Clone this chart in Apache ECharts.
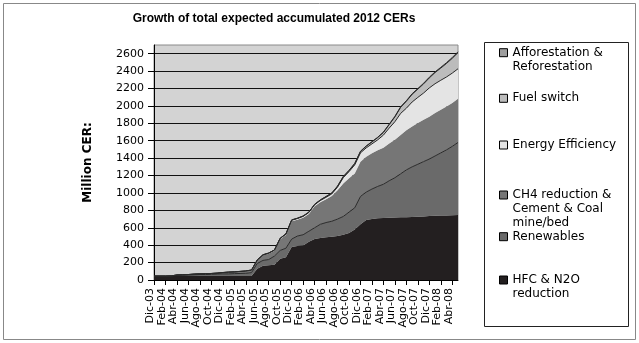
<!DOCTYPE html>
<html>
<head>
<meta charset="utf-8">
<script src="https://cdn.jsdelivr.net/npm/echarts@6/dist/echarts.min.js"></script>
<style>html,body{margin:0;padding:0;background:#fff;}#c{width:639px;height:343px;}</style>
</head>
<body>
<div id="c"></div>
<script>
const months = ['Dic-03','Ene-04','Feb-04','Mar-04','Abr-04','May-04','Jun-04','Jul-04','Ago-04','Sep-04','Oct-04','Nov-04',
  'Dic-04','Ene-05','Feb-05','Mar-05','Abr-05','May-05','Jun-05','Jul-05','Ago-05','Sep-05','Oct-05','Nov-05',
  'Dic-05','Ene-06','Feb-06','Mar-06','Abr-06','May-06','Jun-06','Jul-06','Ago-06','Sep-06','Oct-06','Nov-06',
  'Dic-06','Ene-07','Feb-07','Mar-07','Abr-07','May-07','Jun-07','Jul-07','Ago-07','Sep-07','Oct-07','Nov-07',
  'Dic-07','Ene-08','Feb-08','Mar-08','Abr-08','May-08'];

const hfcN2O = [45,45,45,45,45,45,45,45,45,45,45,45,45,45,45,45,45,45,
  130,165,170,175,245,262,380,392,395,440,470,482,492,498,505,520,540,580,
  640,690,702,710,712,715,718,720,722,725,728,731,734,737,740,742,744,746];
const renewables = [0,0,0,2,8,10,12,15,18,18,20,22,25,25,28,30,32,40,
  60,60,65,100,95,103,90,113,125,120,130,158,168,177,195,210,240,250,
  320,320,343,365,388,425,457,500,543,575,602,629,656,688,720,753,791,834];
const ch4Cement = [0,0,0,0,5,5,6,8,8,10,10,12,15,18,18,20,22,25,
  35,59,68,61,129,152,204,187,196,199,246,253,268,289,332,380,390,395,
  400,405,410,415,420,428,436,445,455,465,473,480,487,495,497,498,500,502];
const energyEff = [0,0,0,0,0,0,0,0,0,0,0,0,0,2,2,3,3,3,
  3,4,5,6,8,10,12,14,15,16,18,20,22,25,35,66,75,98,
  101,103,109,120,145,177,208,249,254,280,295,308,330,335,338,340,342,345];
const fuelSwitch = [0,0,0,0,0,0,0,0,0,0,0,0,1,1,1,1,2,2,
  2,2,2,3,3,3,4,4,4,5,5,6,8,9,10,11,12,13,
  15,18,22,26,30,40,55,70,80,88,95,105,115,128,140,155,170,185];
const afforestation = [0,0,0,0,0,0,0,0,0,0,0,0,0,0,0,0,0,0,
  0,0,0,0,0,0,0,0,0,0,1,1,2,2,3,3,3,4,
  4,4,4,4,5,5,6,6,6,7,7,7,8,8,8,9,9,10];

const seriesNames = ['HFC & N2O reduction','Renewables','CH4 reduction & Cement & Coal mine/bed','Energy Efficiency','Fuel switch','Afforestation & Reforestation'];
const legendLabels = {
  'Afforestation & Reforestation': 'Afforestation &\nReforestation',
  'Fuel switch': 'Fuel switch',
  'Energy Efficiency': 'Energy Efficiency',
  'CH4 reduction & Cement & Coal mine/bed': 'CH4 reduction &\nCement & Coal\nmine/bed',
  'Renewables': 'Renewables',
  'HFC & N2O reduction': 'HFC & N2O\nreduction'
};
const yTicks = [0,200,400,600,800,1000,1200,1400,1600,1800,2000,2200,2400,2600];

const colors = ['#231f20','#6a6a6a','#767676','#e4e4e4','#bcbcbc','#9e9e9e'];
const lineW = [0,1,0,1,1,1];
const values = [hfcN2O, renewables, ch4Cement, energyEff, fuelSwitch, afforestation];

const series = seriesNames.map((n,i)=>({
  name:n, type:'line', stack:'total', data:values[i], showSymbol:false, symbol:'none',
  itemStyle:{color:colors[i]},
  lineStyle:{width:lineW[i], color:'#2a2a2a'},
  areaStyle:{color:colors[i], opacity:1},
  emphasis:{disabled:true}
}));

// legend item placement (first-line centre y); marker aligned with first text line
const legendOrder = ['Afforestation & Reforestation','Fuel switch','Energy Efficiency','CH4 reduction & Cement & Coal mine/bed','Renewables','HFC & N2O reduction'];
const legendY = [52.7, 98.3, 145, 195, 236.7, 280];
const legends = legendOrder.map((n,i)=>{
  const L = legendLabels[n].split('\n').length;
  const lead = '\n'.repeat(L-1);
  return {
    show:true, orient:'vertical', left:499, top: legendY[i] - (2*L-1)*7, padding:0,
    itemWidth:8, itemHeight:8, icon:'rect', selectedMode:false,
    itemStyle:{borderColor:'#000', borderWidth:1},
    formatter:(name)=>lead + legendLabels[name],
    textStyle:{fontFamily:'DejaVu Sans', fontSize:12, color:'#000', lineHeight:14},
    data:[n]
  };
});

const chart = echarts.init(document.getElementById('c'), null, {renderer:'canvas'});
chart.setOption({
  animation:false,
  backgroundColor:'#fff',
  title:{text:'Growth of total expected accumulated 2012 CERs', left:269, top:8, textAlign:'center',
    textStyle:{fontFamily:'Liberation Sans', fontWeight:'bold', fontSize:12, color:'#000'}},
  legend:legends,
  grid:{left:154, right:181, top:45, bottom:63, show:true, backgroundColor:'#d3d3d3', borderColor:'#8a8a8a', borderWidth:1, containLabel:false},
  xAxis:{type:'category', data:months, boundaryGap:false,
    axisLine:{lineStyle:{color:'#000', width:1}},
    axisTick:{interval:1, length:5, lineStyle:{color:'#000'}},
    axisLabel:{interval:1, rotate:90, margin:8, fontFamily:'DejaVu Sans', fontSize:11, color:'#000', verticalAlign:'bottom', lineHeight:7},
    splitLine:{show:false}},
  yAxis:{type:'value', min:0, max:2700, interval:200,
    name:'Million CER:', nameLocation:'middle', nameGap:60, nameRotate:90,
    nameTextStyle:{fontFamily:'DejaVu Sans', fontWeight:'bold', fontSize:12, color:'#000'},
    axisLine:{show:true, lineStyle:{color:'#000'}},
    axisTick:{show:true, length:6, lineStyle:{color:'#000'}},
    axisLabel:{margin:10, fontFamily:'DejaVu Sans', fontSize:11, color:'#000', showMaxLabel:false,
      formatter:(v)=> yTicks.indexOf(v) >= 0 ? String(v) : ''},
    splitLine:{show:true, showMaxLine:false, lineStyle:{color:'#111', width:1}}},
  series:series,
  graphic:[
    {type:'rect', shape:{x:3.5, y:3.5, width:632, height:336}, style:{fill:'none', stroke:'#888', lineWidth:1}, silent:true, z:-1},
    {type:'rect', shape:{x:484.5, y:42.5, width:144, height:284}, style:{fill:'none', stroke:'#222', lineWidth:1}, silent:true}
  ]
});
</script>
</body>
</html>
